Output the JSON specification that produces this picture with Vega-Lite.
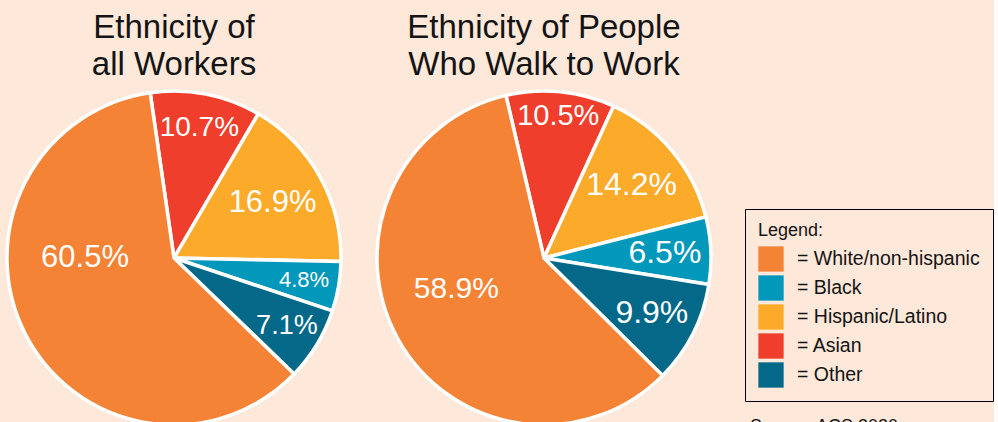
{
  "$schema": "https://vega.github.io/schema/vega-lite/v6.json",
  "background": "#FDE8D9",
  "padding": {"top": 12, "left": 0, "right": 0, "bottom": 0},
  "spacing": 22,
  "config": {
    "view": {"stroke": null},
    "font": "Liberation Sans",
    "title": {"font": "Liberation Sans", "fontSize": 33, "fontWeight": "normal", "color": "#141414", "lineHeight": 37, "anchor": "middle", "offset": 2},
    "legend": {"strokeColor": "#000000", "padding": 13}
  },
  "datasets": {
    "all": [
      {"group": "Asian", "share": 0.107, "rank": 1},
      {"group": "Hispanic/Latino", "share": 0.169, "rank": 2},
      {"group": "Black", "share": 0.048, "rank": 3},
      {"group": "Other", "share": 0.071, "rank": 4},
      {"group": "White/non-hispanic", "share": 0.605, "rank": 5}
    ],
    "walk": [
      {"group": "Asian", "share": 0.105, "rank": 1},
      {"group": "Hispanic/Latino", "share": 0.142, "rank": 2},
      {"group": "Black", "share": 0.065, "rank": 3},
      {"group": "Other", "share": 0.099, "rank": 4},
      {"group": "White/non-hispanic", "share": 0.589, "rank": 5}
    ]
  },
  "title": {"text": "Source: ACS 2020", "orient": "bottom", "anchor": "start", "dx": 750, "offset": -14, "baseline": "top", "fontSize": 18, "font": "Liberation Sans", "fontWeight": "normal", "color": "#141414"},
  "hconcat": [
    {
      "width": 348,
      "height": 336,
      "title": {"text": ["Ethnicity of", "all Workers"]},
      "data": {"name": "all"},
      "encoding": {
        "theta": {"field": "share", "type": "quantitative", "stack": true, "scale": {"range": [-0.143, 6.140]}},
        "order": {"field": "rank", "type": "ordinal"}
      },
      "layer": [
        {
          "mark": {"type": "arc", "outerRadius": 167, "stroke": "white", "strokeWidth": 3.5},
          "encoding": {
            "color": {
              "field": "group", "type": "nominal",
              "scale": {"domain": ["White/non-hispanic", "Black", "Hispanic/Latino", "Asian", "Other"], "range": ["#F58336", "#0298BB", "#FBAA2A", "#EF3E2C", "#046889"]},
              "legend": {
                "orient": "none", "legendX": 745, "legendY": 119, "direction": "vertical",
                "title": "Legend:", "titleFontSize": 18, "titleFontWeight": "normal", "titleColor": "#141414", "titleFont": "Liberation Sans", "titlePadding": 6,
                "labelExpr": "'= ' + datum.label", "labelFontSize": 19.5, "labelColor": "#141414", "labelFont": "Liberation Sans", "labelOffset": 13, "labelLimit": 400,
                "symbolType": "square", "symbolSize": 640, "symbolStrokeWidth": 0, "symbolOpacity": 1, "rowPadding": 3
              }
            }
          }
        },
        {
          "mark": {"type": "text", "font": "Liberation Sans", "fontSize": 31, "baseline": "middle", "align": "center",
            "radius": {"expr": "datum.group === 'White/non-hispanic' ? 89 : datum.group === 'Hispanic/Latino' ? 113 : 132"},
            "thetaOffset": {"expr": "datum.group === 'White/non-hispanic' ? 0.47 : 0"}},
          "encoding": {
            "text": {"field": "share", "type": "quantitative", "format": ".1%"},
            "detail": {"field": "group", "type": "nominal"},
            "color": {"value": "white"},
            "size": {"condition": [
              {"test": "datum.group === 'Black'", "value": 22},
              {"test": "datum.group === 'Other'", "value": 27},
              {"test": "datum.group === 'Asian'", "value": 28}
            ], "value": 31}
          }
        }
      ]
    },
    {
      "width": 336,
      "height": 336,
      "title": {"text": ["Ethnicity of People", "Who Walk to Work"]},
      "data": {"name": "walk"},
      "encoding": {
        "theta": {"field": "share", "type": "quantitative", "stack": true, "scale": {"range": [-0.230, 6.053]}},
        "order": {"field": "rank", "type": "ordinal"}
      },
      "layer": [
        {
          "mark": {"type": "arc", "outerRadius": 167, "stroke": "white", "strokeWidth": 3.5},
          "encoding": {
            "color": {"field": "group", "type": "nominal"}
          }
        },
        {
          "mark": {"type": "text", "font": "Liberation Sans", "fontSize": 31, "baseline": "middle", "align": "center",
            "radius": {"expr": "datum.group === 'White/non-hispanic' ? 93 : datum.group === 'Asian' ? 143 : datum.group === 'Hispanic/Latino' ? 114 : 121"},
            "thetaOffset": {"expr": "datum.group === 'White/non-hispanic' ? 0.17 : 0"}},
          "encoding": {
            "text": {"field": "share", "type": "quantitative", "format": ".1%"},
            "detail": {"field": "group", "type": "nominal"},
            "color": {"value": "white"},
            "size": {"condition": [
              {"test": "datum.group === 'Asian'", "value": 29},
              {"test": "datum.group === 'White/non-hispanic'", "value": 30}
            ], "value": 32}
          }
        }
      ]
    }
  ],
  "resolve": {"scale": {"theta": "independent", "color": "shared"}}
}
